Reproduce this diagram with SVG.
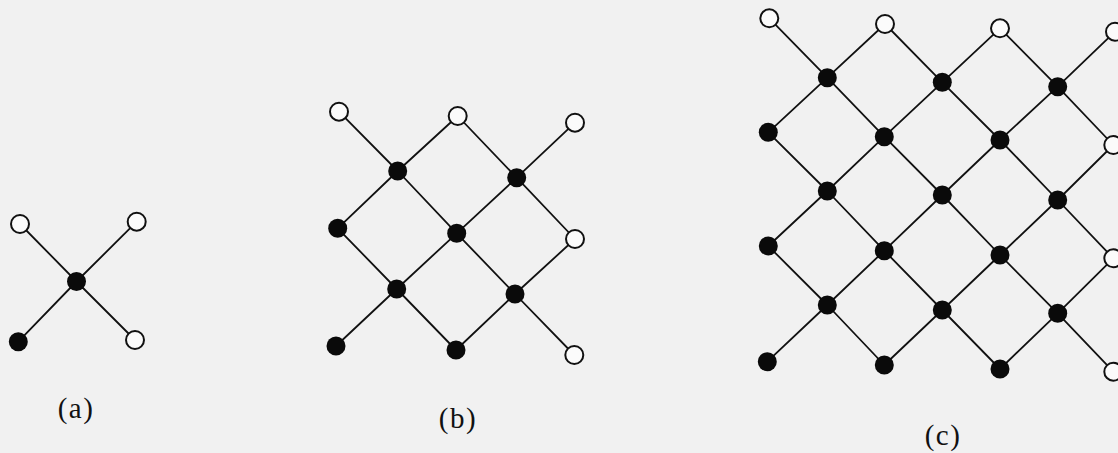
<svg xmlns="http://www.w3.org/2000/svg" width="1118" height="453" viewBox="0 0 1118 453">
<style>
.bg{fill:#f1f1f1}
.edge{fill:none;stroke:#111;stroke-width:1.8;stroke-linejoin:round}
.o{fill:#fbfbfb;stroke:#111;stroke-width:2}
.f{fill:#0a0a0a}
.lbl{font-family:"Liberation Serif","Times New Roman",serif;font-size:29px;fill:#111;text-anchor:middle;letter-spacing:1.5px}
</style>
<rect class="bg" x="0" y="0" width="1118" height="453"/>
<g id="connectors">
  <!-- (a) -->
  <polyline class="edge" points="20,224 76.5,281.5 135,340"/>
  <polyline class="edge" points="18.3,341.7 76.5,281.5 136.7,221.7"/>
  <!-- (b) -->
  <polyline class="edge" points="339,111.7 397.7,171 456.7,233.3 515,294 574.3,355"/>
  <polyline class="edge" points="457.7,116 516.7,177.7 575,239"/>
  <polyline class="edge" points="337.7,228.3 396.7,289 456,350"/>
  <polyline class="edge" points="337.7,228.3 397.7,171 457.7,116"/>
  <polyline class="edge" points="336,346 396.7,289 456.7,233.3 516.7,177.7 575,122.7"/>
  <polyline class="edge" points="456,350 515,294 575,239"/>
  <!-- (c) -->
  <polyline class="edge" points="769.3,18.3 827.3,77.7 884.3,136.7 942.3,195 1000,255 1057.7,313.3 1113.3,371.7"/>
  <polyline class="edge" points="885,24 942.3,82.3 1000,140 1057.7,200 1113.3,258.3"/>
  <polyline class="edge" points="1000,28.3 1057.7,86.7 1113.3,145"/>
  <polyline class="edge" points="768.3,132.3 827.3,191 884.3,250.7 942.3,310 1000,369"/>
  <polyline class="edge" points="768.3,246 827.3,305 884.3,365"/>
  <polyline class="edge" points="768.3,132.3 827.3,77.7 885,24"/>
  <polyline class="edge" points="768.3,246 827.3,191 884.3,136.7 942.3,82.3 1000,28.3"/>
  <polyline class="edge" points="767.3,361.7 827.3,305 884.3,250.7 942.3,195 1000,140 1057.7,86.7 1115,31.7"/>
  <polyline class="edge" points="884.3,365 942.3,310 1000,255 1057.7,200 1113.3,145"/>
  <polyline class="edge" points="1000,369 1057.7,313.3 1113.3,258.3"/>
</g>
<!-- (a) nodes -->
<g id="a-n00"><circle class="o" cx="20" cy="224" r="9"/></g>
<g id="a-n20"><circle class="o" cx="136.7" cy="221.7" r="9"/></g>
<g id="a-n11"><circle class="f" cx="76.5" cy="281.5" r="9.5"/></g>
<g id="a-n02"><circle class="f" cx="18.3" cy="341.7" r="9.5"/></g>
<g id="a-n22"><circle class="o" cx="135" cy="340" r="9"/></g>
<!-- (b) nodes -->
<g id="b-n00"><circle class="o" cx="339" cy="111.7" r="9"/></g>
<g id="b-n20"><circle class="o" cx="457.7" cy="116" r="9"/></g>
<g id="b-n40"><circle class="o" cx="575" cy="122.7" r="9"/></g>
<g id="b-n11"><circle class="f" cx="397.7" cy="171" r="9.5"/></g>
<g id="b-n31"><circle class="f" cx="516.7" cy="177.7" r="9.5"/></g>
<g id="b-n02"><circle class="f" cx="337.7" cy="228.3" r="9.5"/></g>
<g id="b-n22"><circle class="f" cx="456.7" cy="233.3" r="9.5"/></g>
<g id="b-n42"><circle class="o" cx="575" cy="239" r="9"/></g>
<g id="b-n13"><circle class="f" cx="396.7" cy="289" r="9.5"/></g>
<g id="b-n33"><circle class="f" cx="515" cy="294" r="9.5"/></g>
<g id="b-n04"><circle class="f" cx="336" cy="346" r="9.5"/></g>
<g id="b-n24"><circle class="f" cx="456" cy="350" r="9.5"/></g>
<g id="b-n44"><circle class="o" cx="574.3" cy="355" r="9"/></g>
<!-- (c) nodes -->
<g id="c-n00"><circle class="o" cx="769.3" cy="18.3" r="9"/></g>
<g id="c-n20"><circle class="o" cx="885" cy="24" r="9"/></g>
<g id="c-n40"><circle class="o" cx="1000" cy="28.3" r="9"/></g>
<g id="c-n60"><circle class="o" cx="1115" cy="31.7" r="9"/></g>
<g id="c-n11"><circle class="f" cx="827.3" cy="77.7" r="9.5"/></g>
<g id="c-n31"><circle class="f" cx="942.3" cy="82.3" r="9.5"/></g>
<g id="c-n51"><circle class="f" cx="1057.7" cy="86.7" r="9.5"/></g>
<g id="c-n02"><circle class="f" cx="768.3" cy="132.3" r="9.5"/></g>
<g id="c-n22"><circle class="f" cx="884.3" cy="136.7" r="9.5"/></g>
<g id="c-n42"><circle class="f" cx="1000" cy="140" r="9.5"/></g>
<g id="c-n62"><circle class="o" cx="1113.3" cy="145" r="9"/></g>
<g id="c-n13"><circle class="f" cx="827.3" cy="191" r="9.5"/></g>
<g id="c-n33"><circle class="f" cx="942.3" cy="195" r="9.5"/></g>
<g id="c-n53"><circle class="f" cx="1057.7" cy="200" r="9.5"/></g>
<g id="c-n04"><circle class="f" cx="768.3" cy="246" r="9.5"/></g>
<g id="c-n24"><circle class="f" cx="884.3" cy="250.7" r="9.5"/></g>
<g id="c-n44"><circle class="f" cx="1000" cy="255" r="9.5"/></g>
<g id="c-n64"><circle class="o" cx="1113.3" cy="258.3" r="9"/></g>
<g id="c-n15"><circle class="f" cx="827.3" cy="305" r="9.5"/></g>
<g id="c-n35"><circle class="f" cx="942.3" cy="310" r="9.5"/></g>
<g id="c-n55"><circle class="f" cx="1057.7" cy="313.3" r="9.5"/></g>
<g id="c-n06"><circle class="f" cx="767.3" cy="361.7" r="9.5"/></g>
<g id="c-n26"><circle class="f" cx="884.3" cy="365" r="9.5"/></g>
<g id="c-n46"><circle class="f" cx="1000" cy="369" r="9.5"/></g>
<g id="c-n66"><circle class="o" cx="1113.3" cy="371.7" r="9"/></g>
<!-- labels -->
<g id="labels">
  <text class="lbl" x="76" y="418">(a)</text>
  <text class="lbl" x="458" y="428">(b)</text>
  <text class="lbl" x="943" y="445">(c)</text>
</g>
</svg>
